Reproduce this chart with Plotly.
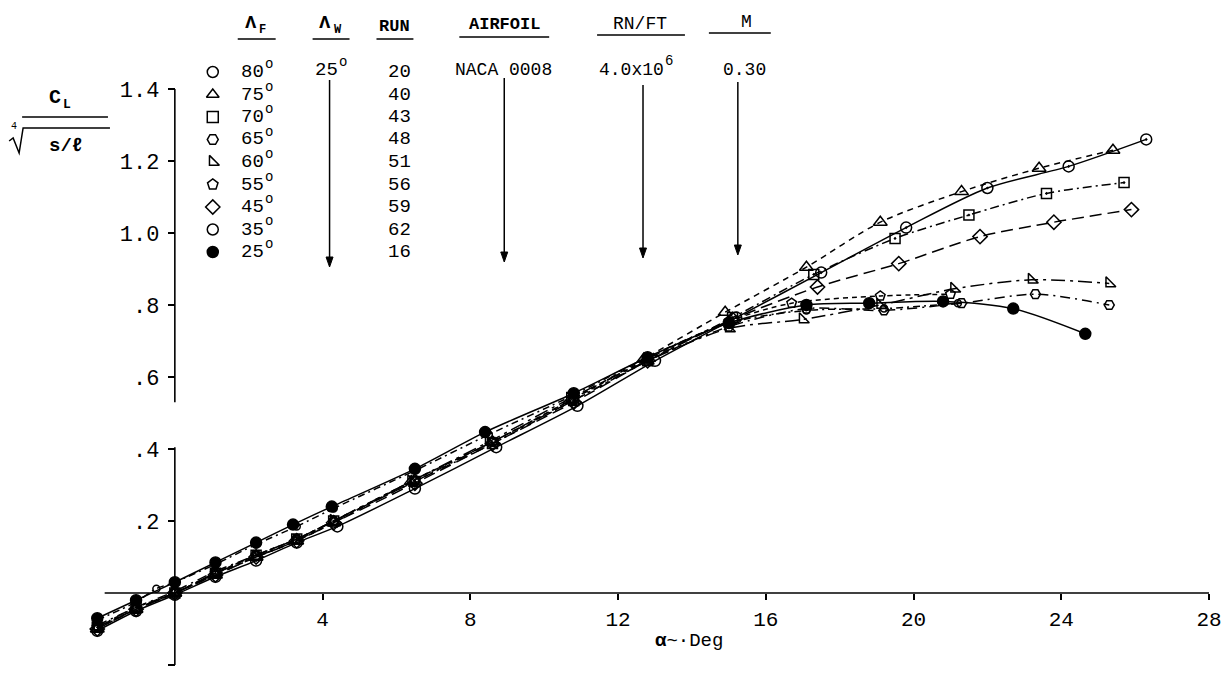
import plotly.graph_objects as go

W, H = 1227, 678
L, R, T, B = 86, 1211, 5, 665           # plot-area box in pixels
X0PX, Y0PX = 175.0, 593.0               # pixel of alpha=0 / CL=0
XSCALE, YSCALE = 37.0, 360.0            # px per degree / px per unit
XR = [(L - X0PX) / XSCALE, (R - X0PX) / XSCALE]
YR = [(Y0PX - B) / YSCALE, (Y0PX - T) / YSCALE]

# ---------------- data (alpha in deg, CL / (s/l)^(1/4)) ----------------
alpha_80 = [-2.1, -1.05, 0.0, 1.1, 2.2, 3.3, 4.4, 6.5, 8.7, 10.9, 13.0, 15.2, 17.5, 19.8, 22.0, 24.2, 26.3]
cl_80 = [-0.105, -0.05, -0.005, 0.045, 0.09, 0.14, 0.185, 0.29, 0.405, 0.52, 0.645, 0.765, 0.89, 1.015, 1.125, 1.185, 1.26]

alpha_75 = [-2.1, -1.05, 0.0, 1.1, 2.2, 3.3, 4.3, 6.4, 8.6, 10.7, 12.7, 14.9, 17.1, 19.1, 21.3, 23.4, 25.4]
cl_75 = [-0.1, -0.045, 0.0, 0.05, 0.1, 0.145, 0.195, 0.31, 0.42, 0.535, 0.65, 0.78, 0.905, 1.03, 1.115, 1.18, 1.23]

alpha_70 = [-2.1, -1.05, 0.0, 1.1, 2.2, 3.3, 4.3, 6.5, 8.6, 10.8, 12.8, 15.1, 17.3, 19.5, 21.5, 23.6, 25.7]
cl_70 = [-0.095, -0.04, 0.0, 0.055, 0.105, 0.15, 0.2, 0.31, 0.415, 0.535, 0.645, 0.765, 0.885, 0.985, 1.05, 1.11, 1.14]

alpha_65 = [-2.1, -1.05, 0.0, 1.1, 2.2, 3.3, 4.3, 6.5, 8.6, 10.8, 12.8, 15.0, 17.1, 19.2, 21.3, 23.3, 25.3]
cl_65 = [-0.09, -0.04, 0.005, 0.06, 0.105, 0.15, 0.2, 0.31, 0.42, 0.535, 0.645, 0.74, 0.79, 0.785, 0.805, 0.83, 0.80]

alpha_60 = [-2.1, -1.05, 0.0, 1.1, 2.2, 3.3, 4.3, 6.4, 8.5, 10.7, 12.8, 15.0, 17.0, 19.1, 21.1, 23.2, 25.3]
cl_60 = [-0.095, -0.045, 0.0, 0.055, 0.1, 0.145, 0.2, 0.31, 0.42, 0.54, 0.645, 0.735, 0.76, 0.80, 0.845, 0.87, 0.86]

alpha_55 = [-2.1, -1.05, 0.0, 1.1, 2.2, 3.3, 4.3, 6.5, 8.6, 10.8, 12.8, 15.0, 16.7, 19.1, 21.0]
cl_55 = [-0.095, -0.045, 0.0, 0.055, 0.105, 0.15, 0.2, 0.315, 0.42, 0.54, 0.65, 0.755, 0.805, 0.825, 0.83]

alpha_45 = [-2.1, -1.05, 0.0, 1.1, 2.2, 3.3, 4.3, 6.5, 8.6, 10.8, 12.8, 15.1, 17.4, 19.6, 21.8, 23.8, 25.9]
cl_45 = [-0.1, -0.045, 0.0, 0.05, 0.1, 0.145, 0.195, 0.305, 0.415, 0.53, 0.645, 0.76, 0.85, 0.915, 0.99, 1.03, 1.065]

alpha_35 = [-2.1, -1.05, -0.5, 0.0, 1.1, 2.2, 3.3, 4.3, 6.5, 8.5, 10.8, 12.8, 15.0, 17.1, 19.2, 21.2]
cl_35 = [-0.075, -0.025, 0.012, 0.03, 0.08, 0.135, 0.185, 0.235, 0.34, 0.44, 0.55, 0.655, 0.75, 0.785, 0.79, 0.805]

alpha_25 = [-2.1, -1.05, 0.0, 1.1, 2.2, 3.2, 4.25, 6.5, 8.4, 10.8, 12.8, 15.0, 17.1, 18.8, 20.8, 22.7, 24.65]
cl_25 = [-0.07, -0.02, 0.03, 0.085, 0.14, 0.19, 0.24, 0.345, 0.447, 0.555, 0.655, 0.75, 0.80, 0.805, 0.81, 0.79, 0.72]

lambda_f = ["80", "75", "70", "65", "60", "55", "45", "35", "25"]
runs = ["20", "40", "43", "48", "51", "56", "59", "62", "16"]

x_ticks = [4, 8, 12, 16, 20, 24, 28]
y_ticks = [-0.2, 0.2, 0.4, 0.6, 0.8, 1.0, 1.2, 1.4]
y_ticktext = ["-.2", ".2", ".4", ".6", ".8", "1.0", "1.2", "1.4"]

# ---------------- styles ----------------
series = [
    (alpha_80, cl_80, "circle-open-dot", 11, "solid"),
    (alpha_75, cl_75, "triangle-up-open", 12, "6px,5px"),
    (alpha_70, cl_70, "square-open-dot", 10, "9px,4px,2px,4px"),
    (alpha_65, cl_65, "hexagon2-open", 10, "10px,5px,2px,5px"),
    (alpha_60, cl_60, "triangle-sw-open", 11, "14px,5px,3px,5px"),
    (alpha_55, cl_55, "pentagon-open", 10, "5px,4px"),
    (alpha_45, cl_45, "diamond-open", 11, "12px,6px"),
    (alpha_35, cl_35, "circle-open", 7, "7px,4px,2px,4px"),
    (alpha_25, cl_25, "circle", 11, "solid"),
]

MONO = "Liberation Mono, Courier New, monospace"

fig = go.Figure()
for (ax, cy, sym, sz, dash), lf in zip(series, lambda_f):
    fig.add_trace(go.Scatter(
        x=ax, y=cy, mode="lines+markers", name=lf,
        line=dict(color="black", width=1.5, dash=dash, shape="spline", smoothing=0.8),
        marker=dict(symbol=sym, size=sz, color="black", line=dict(color="black", width=1.5)),
        showlegend=False, cliponaxis=False,
    ))


def px(x):
    return (x - L) / (R - L)


def py(y):
    return (B - y) / (B - T)


# legend key symbols on an overlay pixel axis
row_y = [72 + 22.5 * i for i in range(len(lambda_f))]
fig.add_trace(go.Scatter(
    x=[213] * len(lambda_f), y=row_y, mode="markers", xaxis="x2", yaxis="y2",
    marker=dict(symbol=[s[2].replace("-dot", "") for s in series], size=11, color="black",
                line=dict(color="black", width=1.5)),
    showlegend=False, cliponaxis=False, hoverinfo="skip",
))

ann = []
shapes = []


def text(x, y, t, size=19, xa="center", font=MONO, bold=False):
    if bold:
        t = "<b>" + t + "</b>"
    ann.append(dict(x=px(x), y=py(y), xref="paper", yref="paper", text=t, showarrow=False,
                    xanchor=xa, yanchor="middle", font=dict(family=font, size=size, color="black")))


def hline(x0, x1, y, w=1.5):
    shapes.append(dict(type="line", xref="paper", yref="paper", x0=px(x0), x1=px(x1),
                       y0=py(y), y1=py(y), line=dict(color="black", width=w)))


def arrow(x, y0, y1):
    shapes.append(dict(type="line", xref="paper", yref="paper", x0=px(x), x1=px(x),
                       y0=py(y0), y1=py(y1 - 6), line=dict(color="black", width=1.5)))
    tri = [(x - 3.5, y1 - 10), (x + 3.5, y1 - 10), (x, y1)]
    path = "M " + " L ".join(f"{px(a)},{py(b)}" for a, b in tri) + " Z"
    shapes.append(dict(type="path", xref="paper", yref="paper", path=path,
                       fillcolor="black", line=dict(color="black", width=1)))


# table headers
text(251, 23, "Λ", 19, bold=True)
text(263, 30, "F", 12, bold=True)
hline(238, 276, 39)
text(325, 23, "Λ", 19, bold=True)
text(338, 30, "W", 12, bold=True)
hline(313, 350, 39)
text(395, 26, "RUN", 17, bold=True)
hline(377, 414, 39)
text(505, 25, "AIRFOIL", 17, bold=True)
hline(460, 550, 37)
text(641, 24, "RN/FT", 18)
hline(598, 686, 35)
text(748, 22, "M", 18)
hline(710, 772, 33)

for yy, lf, rn in zip(row_y, lambda_f, runs):
    text(239, yy, lf, 19, xa="left")
    text(263, yy - 8, "o", 14, xa="left")
    text(400, yy, rn, 19)

text(313, 70, "25", 19, xa="left")
text(337, 62, "o", 14, xa="left")
text(504, 70, "NACA 0008", 18)
text(598, 70, "4.0x10", 18, xa="left")
text(664, 61, "6", 14, xa="left")
text(746, 70, "0.30", 18)

arrow(330, 80, 267)
arrow(505, 78, 262)
arrow(644, 85, 258)
arrow(739, 82, 255)

# y-axis title  C_L / (s/l)^(1/4)
text(55, 98, "C", 20, bold=True)
text(67, 105, "L", 13, bold=True)
hline(22, 108, 117, 1.6)
rad = [(9, 141), (13, 138), (19, 153), (23, 128), (110, 128)]
path = "M " + " L ".join(f"{px(a)},{py(b)}" for a, b in rad)
shapes.append(dict(type="path", xref="paper", yref="paper", path=path,
                   line=dict(color="black", width=1.5)))
text(14, 127, "4", 10)
text(66, 146, "s/ℓ", 19, bold=True)

# x-axis title
text(690, 641, "<b>α</b>~·Deg", 19)

# axis lines (drawn as shapes so the y-axis break can be reproduced)
shapes.append(dict(type="line", xref="x", yref="y", x0=-1.9, x1=28.0, y0=0, y1=0,
                   line=dict(color="black", width=1.6)))
shapes.append(dict(type="line", xref="x", yref="y", x0=0, x1=0, y0=-0.2, y1=0.405,
                   line=dict(color="black", width=1.6)))
shapes.append(dict(type="line", xref="x", yref="y", x0=0, x1=0, y0=0.53, y1=1.4,
                   line=dict(color="black", width=1.6)))

x0_frac = (0 - XR[0]) / (XR[1] - XR[0])
y0_frac = (0 - YR[0]) / (YR[1] - YR[0])

fig.update_layout(
    width=W, height=H, autosize=False,
    margin=dict(l=L, r=W - R, t=T, b=H - B, pad=0),
    paper_bgcolor="white", plot_bgcolor="white",
    showlegend=False,
    xaxis=dict(range=XR, anchor="free", position=y0_frac, showgrid=False, zeroline=False,
               showline=False, tickvals=x_ticks, ticktext=[str(v) for v in x_ticks],
               ticks="outside", ticklen=6, tickwidth=1.5, tickcolor="black",
               ticklabelstandoff=1,
               tickfont=dict(family=MONO, size=21, color="black")),
    yaxis=dict(range=YR, anchor="free", position=x0_frac, showgrid=False, zeroline=False,
               showline=False, tickvals=y_ticks, ticktext=y_ticktext,
               ticks="outside", ticklen=7, tickwidth=1.5, tickcolor="black",
               ticklabelstandoff=4,
               tickfont=dict(family=MONO, size=22, color="black")),
    xaxis2=dict(range=[L, R], overlaying="x", visible=False, fixedrange=True),
    yaxis2=dict(range=[B, T], overlaying="y", visible=False, fixedrange=True),
    annotations=ann, shapes=shapes,
)

fig.write_html("out.html")
